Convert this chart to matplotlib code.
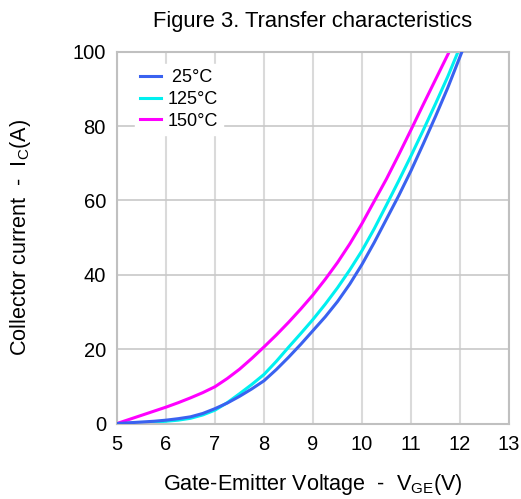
import matplotlib
matplotlib.use("Agg")
import matplotlib.pyplot as plt

plt.rcParams['font.family'] = ['Liberation Sans', 'DejaVu Sans']
plt.rcParams['mathtext.fontset'] = 'custom'
plt.rcParams['mathtext.rm'] = 'Liberation Sans'

# -----------------------------
# Data
# -----------------------------
vge_25 = [5.0, 5.25, 5.5, 5.75, 6.0, 6.25, 6.5, 6.75, 7.0, 7.25, 7.5, 7.75, 8.0, 8.25, 8.5,
          8.75, 9.0, 9.25, 9.5, 9.75, 10.0, 10.25, 10.5, 10.75, 11.0, 11.25, 11.5, 11.75, 12.04]
ic_25 = [0.0, 0.2, 0.4, 0.6, 0.9, 1.3, 1.8, 2.7, 4.0, 5.5, 7.3, 9.3, 11.5, 14.5, 17.8,
         21.3, 25.0, 28.7, 32.8, 37.5, 42.8, 48.7, 55.0, 61.3, 68.0, 75.2, 82.6, 90.3, 100.0]

vge_125 = [5.0, 5.25, 5.5, 5.75, 6.0, 6.25, 6.5, 6.75, 7.0, 7.25, 7.5, 7.75, 8.0, 8.25, 8.5,
           8.75, 9.0, 9.25, 9.5, 9.75, 10.0, 10.25, 10.5, 10.75, 11.0, 11.25, 11.5, 11.75, 11.96]
ic_125 = [0.0, 0.1, 0.2, 0.35, 0.6, 0.9, 1.4, 2.3, 3.6, 5.6, 8.0, 10.5, 13.2, 16.7, 20.5,
          24.2, 28.0, 32.1, 36.5, 41.3, 46.5, 52.4, 58.8, 65.3, 72.0, 78.9, 86.0, 93.3, 100.0]

vge_150 = [5.0, 5.25, 5.5, 5.75, 6.0, 6.25, 6.5, 6.75, 7.0, 7.25, 7.5, 7.75, 8.0, 8.25, 8.5,
           8.75, 9.0, 9.25, 9.5, 9.75, 10.0, 10.25, 10.5, 10.75, 11.0, 11.25, 11.5, 11.78]
ic_150 = [0.0, 1.1, 2.2, 3.3, 4.4, 5.6, 6.9, 8.3, 9.9, 12.1, 14.6, 17.5, 20.6, 23.8, 27.2,
          30.8, 34.6, 38.8, 43.3, 48.3, 53.8, 59.8, 65.8, 72.3, 79.0, 85.8, 92.5, 100.0]

x_ticks = [5, 6, 7, 8, 9, 10, 11, 12, 13]
y_ticks = [0, 20, 40, 60, 80, 100]

# -----------------------------
# Plot
# -----------------------------
fig = plt.figure(figsize=(5.21, 4.99), dpi=100)
ax = fig.add_axes([0.2246, 0.1513, 0.7524, 0.7451])

for x in x_ticks:
    ax.axvline(x, color='#dadada', lw=1.5, zorder=0)
for y in y_ticks:
    ax.axhline(y, color='#c8c8c8', lw=1.2, zorder=0)

ax.plot(vge_25, ic_25, color='#3a62f0', lw=2.2, label=' 25°C', zorder=3)
ax.plot(vge_125, ic_125, color='#00f0f0', lw=2.2, label='125°C', zorder=2)
ax.plot(vge_150, ic_150, color='#ff00ff', lw=2.2, label='150°C', zorder=2)

ax.set_xlim(5, 13)
ax.set_ylim(0, 100)
ax.set_xticks(x_ticks)
ax.set_yticks(y_ticks)
ax.tick_params(length=0, labelsize=14.5, pad=8)
for s in ax.spines.values():
    s.set_color('#c0c0c0')
    s.set_linewidth(1.5)

ax.set_title('Figure 3. Transfer characteristics', fontsize=15.8, pad=18)
ax.set_xlabel(r'Gate-Emitter Voltage  -  V$_{\mathregular{GE}}$(V)', fontsize=15.6)
ax.set_ylabel(r'Collector current  -  I$_{\mathregular{C}}$(A)', fontsize=15.6)
ax.xaxis.label.set_va('center')
ax.xaxis.set_label_coords(0.5, -0.163)
ax.yaxis.label.set_va('center')
ax.yaxis.set_label_coords(-0.247, 0.5)

leg = ax.legend(loc='upper left', bbox_to_anchor=(0.045, 0.967), borderaxespad=0,
                fontsize=13, handlelength=1.15, handletextpad=0.35, labelspacing=0.26,
                frameon=True, fancybox=False, edgecolor='white', facecolor='white',
                framealpha=1, borderpad=0.3)
for line in leg.get_lines():
    line.set_linewidth(2.2)

fig.savefig('out.png', dpi=100)
